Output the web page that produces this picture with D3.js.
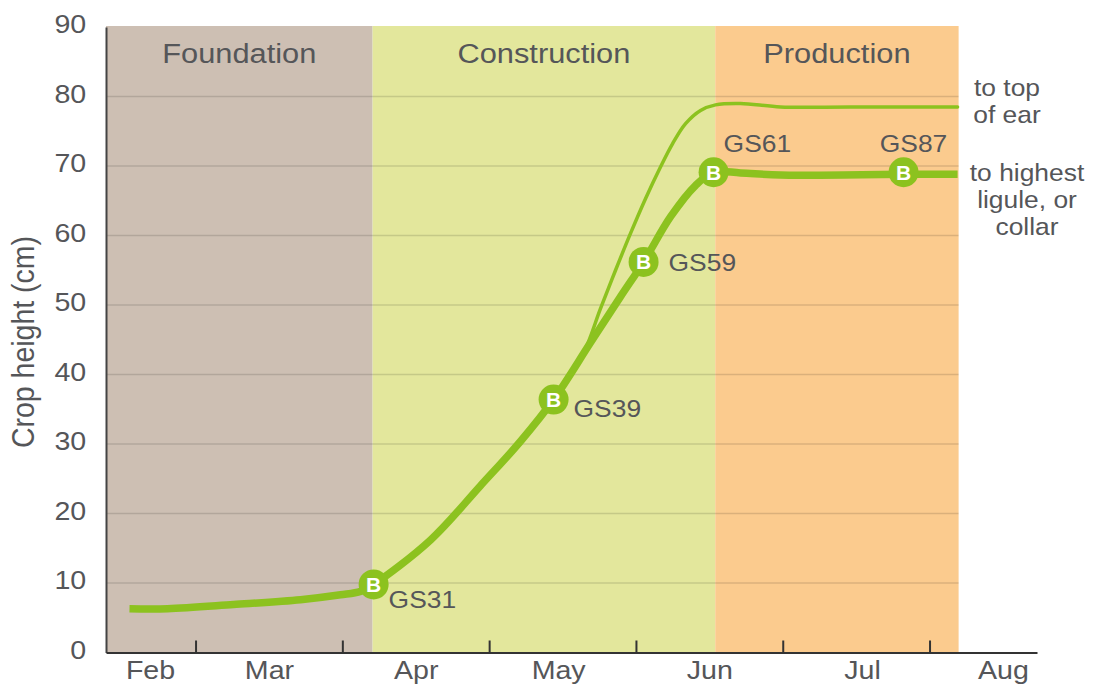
<!DOCTYPE html>
<html>
<head>
<meta charset="utf-8">
<script src="https://cdn.jsdelivr.net/npm/d3@7"></script>
<style>
  html, body { margin: 0; padding: 0; background: #fff; }
  svg { display: block; font-family: "Liberation Sans", Arial, Helvetica, sans-serif; }
</style>
</head>
<body>
<svg id="chart" width="1098" height="686"></svg>
<script>
// ---------------- data ----------------
const months = ["Feb", "Mar", "Apr", "May", "Jun", "Jul", "Aug"];
const monthLabelPos = [0.69, 1.5, 2.5, 3.47, 4.5, 5.54, 6.5];   // month index (1 = 1 Mar)
const monthTicks = [1, 2, 3, 4, 5, 6];
const yTicks = [0, 10, 20, 30, 40, 50, 60, 70, 80, 90];
const gridTicks = [10, 20, 30, 40, 50, 60, 70, 80];

const phases = ["Foundation", "Construction", "Production"];
const phaseStart = [0.39, 2.206, 4.54];
const phaseEnd = [2.206, 4.54, 6.198];

// height to highest ligule / collar (thick line)
const ligT = [0.55, 0.809, 1.259, 1.715, 1.988, 2.124, 2.213, 2.601, 2.941, 3.214, 3.439, 3.691, 3.895, 4.052, 4.236, 4.406, 4.529, 4.713, 4.985, 5.823, 6.191];
const ligH = [6.3, 6.3, 6.9, 7.6, 8.3, 8.8, 9.8, 16.2, 24.0, 30.4, 36.4, 44.6, 51.2, 56.2, 62.7, 67.2, 69.1, 69.0, 68.7, 68.8, 68.8];

// height to top of ear (thin line)
const earT = [3.439, 3.53, 3.643, 3.759, 3.861, 3.963, 4.065, 4.168, 4.249, 4.338, 4.440, 4.542, 4.712, 4.985, 5.462, 6.191];
const earH = [36.4, 39.6, 43.1, 49.5, 55.0, 60.3, 65.3, 69.9, 73.2, 76.1, 78.0, 78.8, 79.0, 78.5, 78.5, 78.5];

// growth stages
const stages = ["GS31", "GS39", "GS59", "GS61", "GS87"];
const stageT = [2.213, 3.439, 4.052, 4.529, 5.823];
const stageH = [9.8, 36.4, 56.2, 69.1, 69.1];

const earLabel = ["to top", "of ear"];
const ligLabel = ["to highest", "ligule, or", "collar"];

// ---------------- layout / style ----------------
const STRETCH = "scale(1.1,1)";
const textColor = "#555659";
const lineGreen = "#8cc21f";
const phaseColors = ["#cdbfb3", "#e3e79c", "#fbcb8e"];
const stageLabelStyle = [
  { dx: 15, dy: 24, anchor: "start" },
  { dx: 20, dy: 17, anchor: "start" },
  { dx: 25, dy: 9, anchor: "start" },
  { dx: 10, dy: -20, anchor: "start" },
  { dx: 10, dy: -20, anchor: "middle" }
];

const svg = d3.select("#chart");
const x = d3.scaleLinear().domain([0.39, 6.732]).range([106, 1037]);
const y = d3.scaleLinear().domain([0, 90]).range([652.5, 27]);

function label(g, px, py, str, size, anchor, weight, fill) {
  return g.append("text")
    .attr("transform", `translate(${px},${py}) ${STRETCH}`)
    .attr("text-anchor", anchor || "middle")
    .attr("font-size", size)
    .attr("font-weight", weight || "normal")
    .attr("fill", fill || textColor)
    .text(str);
}

// phase backgrounds
const bg = svg.append("g");
bg.selectAll("rect").data(phases).join("rect")
  .attr("x", (d, i) => x(phaseStart[i]))
  .attr("width", (d, i) => x(phaseEnd[i]) - x(phaseStart[i]))
  .attr("y", y(90) - 1)
  .attr("height", y(0) - y(90) + 1)
  .attr("fill", (d, i) => phaseColors[i]);

// gridlines
svg.append("g").selectAll("line").data(gridTicks).join("line")
  .attr("x1", x(phaseStart[0])).attr("x2", x(phaseEnd[2]))
  .attr("y1", d => y(d)).attr("y2", d => y(d))
  .attr("stroke", "#000").attr("stroke-opacity", 0.13).attr("stroke-width", 1.5);

// phase headers
phases.forEach((p, i) => {
  label(svg, (x(phaseStart[i]) + x(phaseEnd[i])) / 2, 63, p, 28, "middle");
});

// axes
const yAxis = svg.append("g").attr("transform", `translate(${x(0.39)},0)`)
  .call(d3.axisLeft(y).tickValues(yTicks).tickSize(0).tickPadding(18));
yAxis.select(".domain").attr("stroke", "#444").attr("stroke-width", 2);
yAxis.selectAll("text").attr("font-size", 26).attr("fill", textColor)
  .attr("font-family", "Liberation Sans, Arial, sans-serif")
  .attr("dy", "0.22em").attr("transform", STRETCH);

const xAxis = svg.append("g").attr("transform", `translate(0,${y(0)})`)
  .call(d3.axisBottom(x).tickValues(monthTicks).tickSize(-12).tickSizeOuter(0).tickFormat(""));
xAxis.select(".domain").attr("stroke", "#333").attr("stroke-width", 2);
xAxis.selectAll(".tick line").attr("stroke", "#333").attr("stroke-width", 2);

const xLab = svg.append("g").attr("transform", `translate(0,${y(0)})`)
  .call(d3.axisBottom(x).tickValues(monthLabelPos).tickSize(0).tickPadding(0)
    .tickFormat((d, i) => months[i]));
xLab.select(".domain").remove();
xLab.selectAll("text").attr("font-size", 26).attr("fill", textColor)
  .attr("font-family", "Liberation Sans, Arial, sans-serif")
  .attr("y", 26.5).attr("dy", 0).attr("transform", STRETCH);

// y axis title
svg.append("text")
  .attr("transform", `translate(34,342) rotate(-90) scale(1,1.1)`)
  .attr("text-anchor", "middle")
  .attr("font-size", 28.5)
  .attr("fill", textColor)
  .text("Crop height (cm)");

// lines
const line = d3.line().curve(d3.curveCatmullRom.alpha(0.5)).x(d => x(d[0])).y(d => y(d[1]));
svg.append("path").datum(earT.map((t, i) => [t, earH[i]]))
  .attr("d", line).attr("fill", "none").attr("stroke", lineGreen)
  .attr("stroke-width", 3.5).attr("stroke-linecap", "round");
svg.append("path").datum(ligT.map((t, i) => [t, ligH[i]]))
  .attr("d", line).attr("fill", "none").attr("stroke", lineGreen)
  .attr("stroke-width", 7.5).attr("stroke-linecap", "butt").attr("stroke-linejoin", "round");

// stage markers
const mk = svg.append("g");
stages.forEach((s, i) => {
  const cx = x(stageT[i]), cy = y(stageH[i]);
  mk.append("circle").attr("cx", cx).attr("cy", cy).attr("r", 15).attr("fill", lineGreen);
  mk.append("text").attr("x", cx).attr("y", cy + 7.5)
    .attr("text-anchor", "middle").attr("font-size", 21).attr("font-weight", "bold")
    .attr("fill", "#fff").text("B");
  const st = stageLabelStyle[i];
  label(mk, cx + st.dx, cy + st.dy, s, 24, st.anchor);
});

// right-hand labels
earLabel.forEach((t, i) => label(svg, 1007, 96 + i * 27, t, 24, "middle"));
ligLabel.forEach((t, i) => label(svg, 1027, 181 + i * 27, t, 24, "middle"));
</script>
</body>
</html>
